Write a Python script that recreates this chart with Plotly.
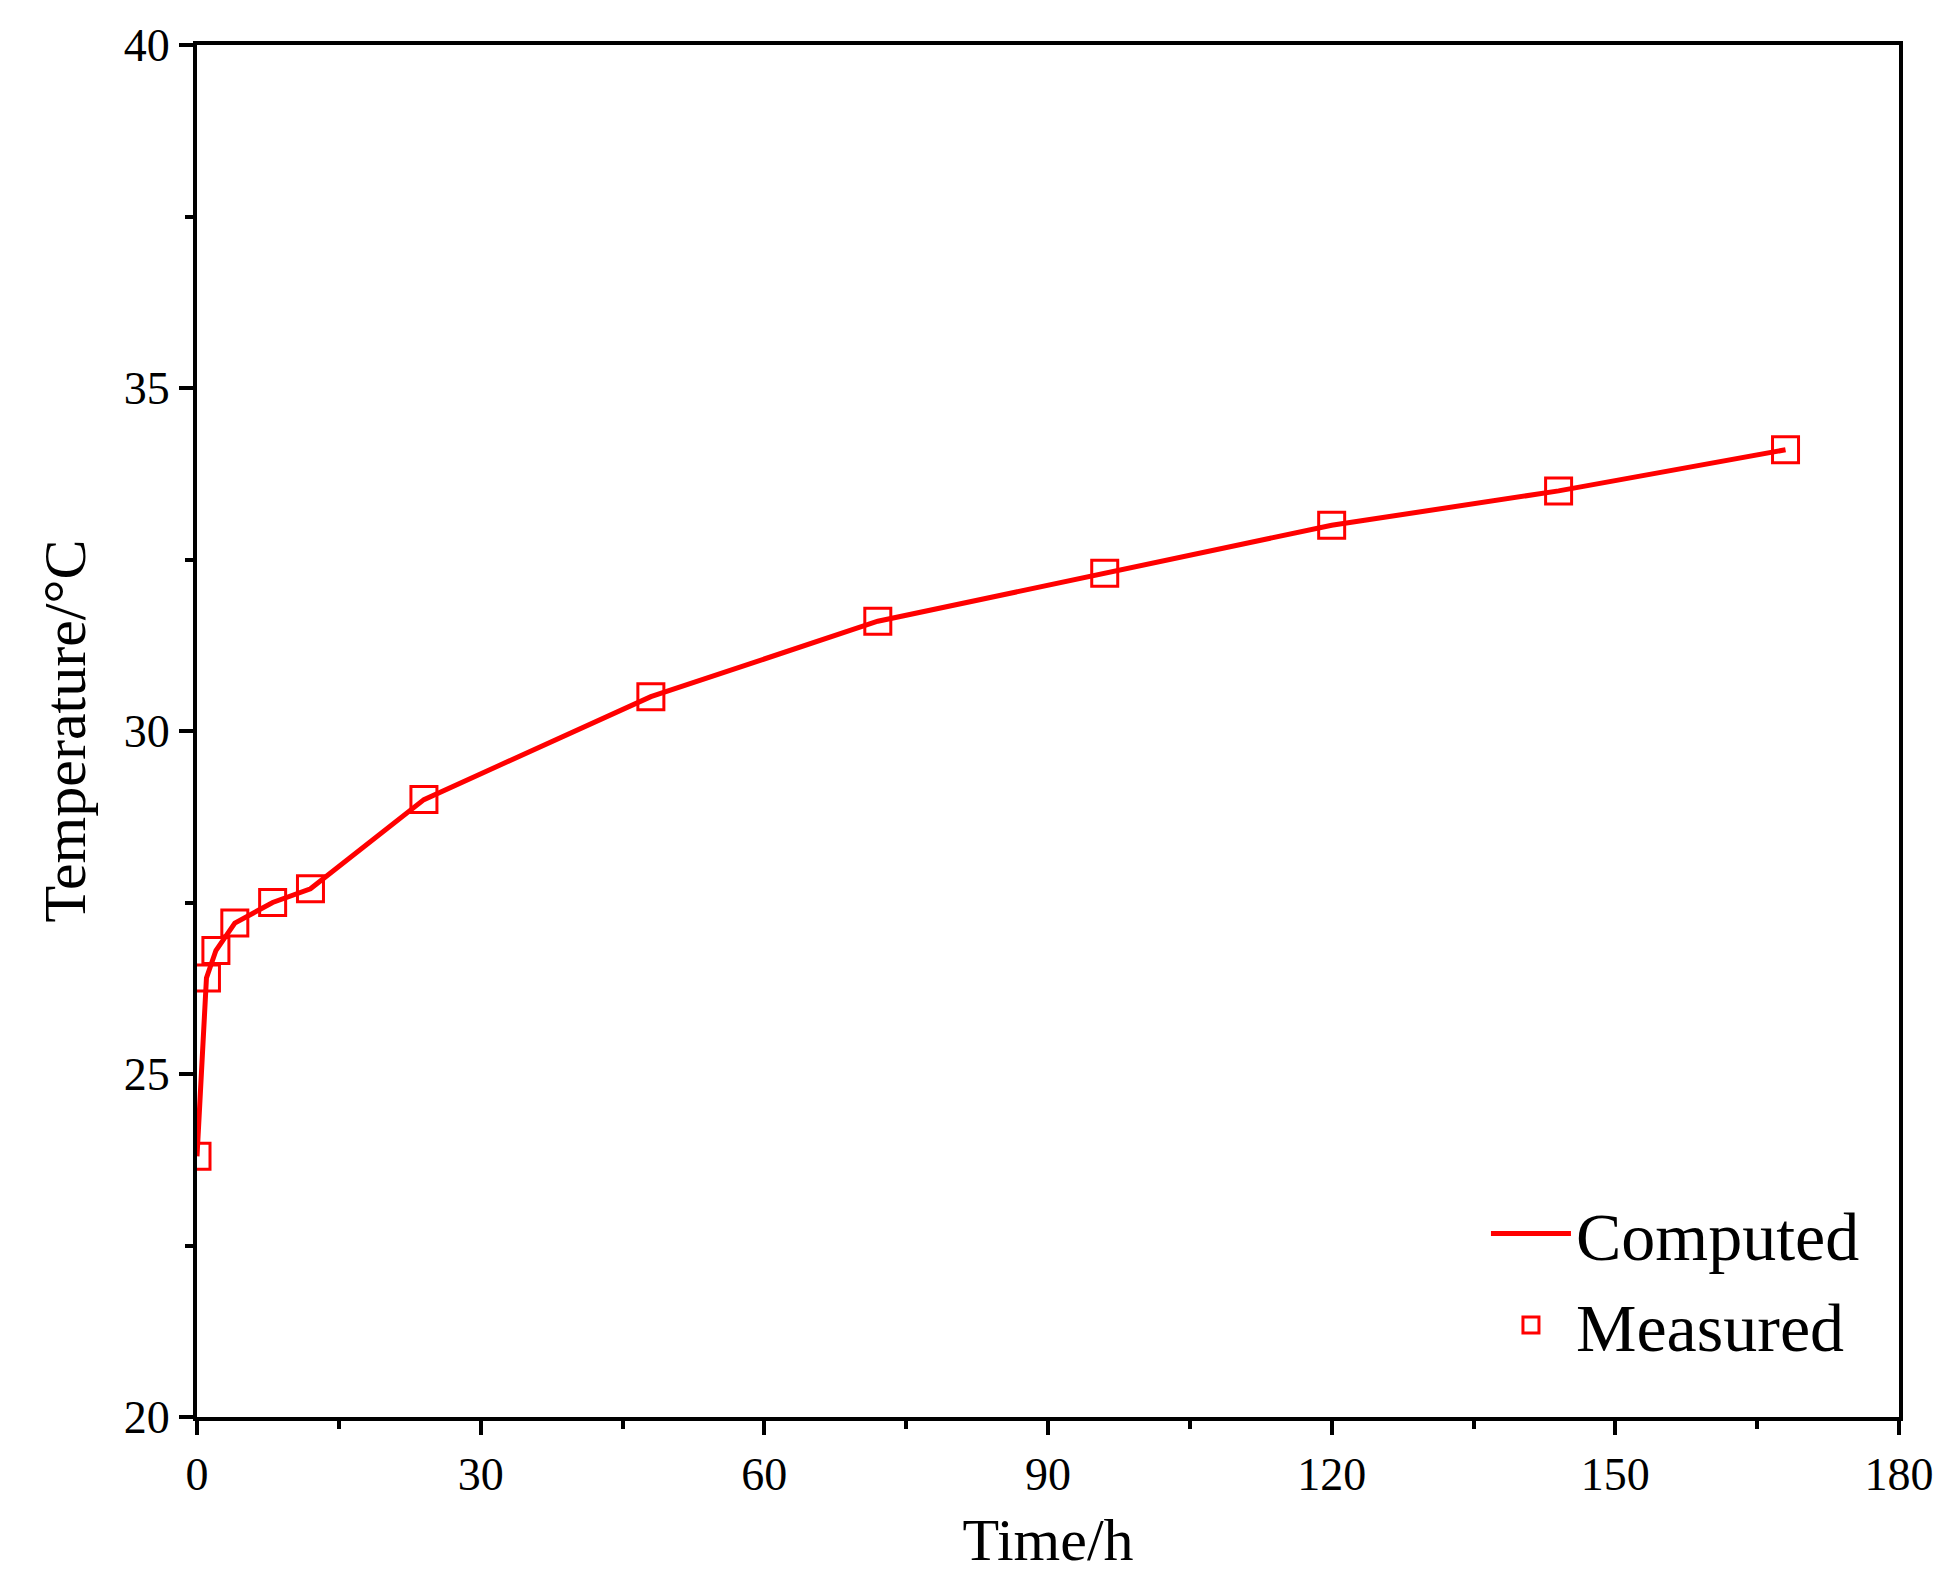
import plotly.graph_objects as go

time_h = [0, 1, 2, 4, 8, 12, 24, 48, 72, 96, 120, 144, 168]
computed = [23.8, 26.4, 26.8, 27.2, 27.5, 27.7, 29.0, 30.5, 31.6, 32.3, 33.0, 33.5, 34.1]
measured = [23.8, 26.4, 26.8, 27.2, 27.5, 27.7, 29.0, 30.5, 31.6, 32.3, 33.0, 33.5, 34.1]

fig = go.Figure()
fig.add_trace(go.Scatter(x=time_h, y=computed, mode="lines", name="Computed",
                         line=dict(color="#ff0000", width=5), cliponaxis=True))
fig.add_trace(go.Scatter(x=time_h, y=measured, mode="markers", name="Measured",
                         marker=dict(symbol="square-open", size=26, color="#ff0000",
                                     line=dict(width=3, color="#ff0000")), cliponaxis=True))

font = "Liberation Serif, Times New Roman, serif"
axis_common = dict(showline=True, linewidth=4, linecolor="black", mirror=True,
                   ticks="outside", tickwidth=4, ticklen=14, tickcolor="black",
                   showgrid=False, zeroline=False,
                   tickfont=dict(family=font, size=46, color="black"))
fig.update_layout(
    width=1949, height=1582,
    paper_bgcolor="white", plot_bgcolor="white",
    margin=dict(l=189, r=58, t=37, b=173),
    font=dict(family=font, color="black"),
    showlegend=True,
    legend=dict(x=0.98, y=0.03, xanchor="right", yanchor="bottom",
                bgcolor="rgba(0,0,0,0)", font=dict(family=font, size=68),
                itemwidth=80, tracegroupgap=10),
    xaxis=dict(range=[0, 180], tickvals=[0, 30, 60, 90, 120, 150, 180],
               minor=dict(tickvals=[15, 45, 75, 105, 135, 165], ticks="outside",
                          ticklen=8, tickwidth=4, tickcolor="black"),
               title=dict(text="Time/h", font=dict(family=font, size=60), standoff=20),
               **axis_common),
    yaxis=dict(range=[20, 40], tickvals=[20, 25, 30, 35, 40],
               minor=dict(tickvals=[22.5, 27.5, 32.5, 37.5], ticks="outside",
                          ticklen=8, tickwidth=4, tickcolor="black"),
               title=dict(text="Temperature/°C", font=dict(family=font, size=60), standoff=20),
               **axis_common),
)
fig.write_html("out.html")
